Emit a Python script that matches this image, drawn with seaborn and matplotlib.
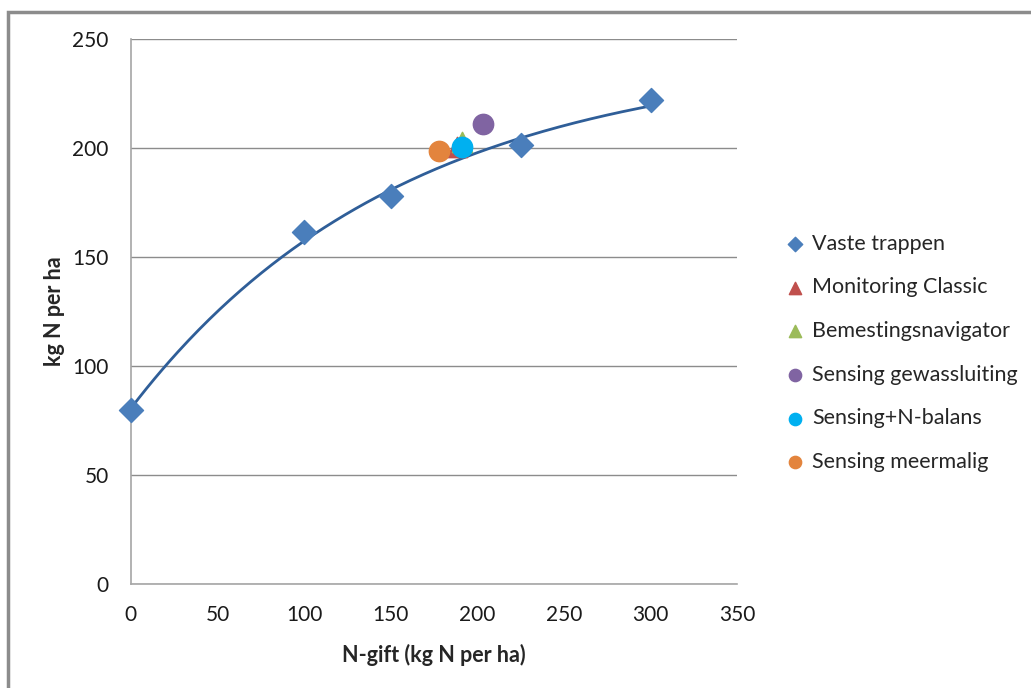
import numpy as np
import pandas as pd
import matplotlib
matplotlib.use("Agg")
import matplotlib.pyplot as plt
import seaborn as sns
from matplotlib.patches import Rectangle

# data
vaste_x = [0, 100, 150, 225, 300]
vaste_y = [80, 161.5, 178, 201.5, 222]

series_names = ['Monitoring Classic', 'Bemestingsnavigator', 'Sensing gewassluiting',
                'Sensing+N-balans', 'Sensing meermalig']
series_x = [188, 191, 203, 191, 178]
series_y = [200.5, 203, 211, 200.5, 198.5]
series_colors = ['#C0504D', '#9BBB59', '#8064A2', '#00B0F0', '#E3843D']
series_markers = ['^', '^', 'o', 'o', 'o']

sns.set_style('white')
plt.rcParams['font.family'] = ['Lato', 'DejaVu Sans']

fig = plt.figure(figsize=(10.31, 6.88), dpi=100)
ax = fig.add_axes([0.127, 0.151, 0.588, 0.792])

# outer chart frame
fig.patches.append(Rectangle((8 / 1031, -0.05), 1.2, 1 - 12 / 688 + 0.05, transform=fig.transFigure,
                             fill=False, edgecolor='#8C8C8C', linewidth=2.5, clip_on=False))

# response curve y = a - b*exp(-c*x), least-squares fit to the 'Vaste trappen' points
xv = np.array(vaste_x, dtype=float)
yv = np.array(vaste_y, dtype=float)
best = None
for c in np.linspace(0.001, 0.02, 400):
    A = np.column_stack([np.ones_like(xv), -np.exp(-c * xv)])
    sol, res, _, _ = np.linalg.lstsq(A, yv, rcond=None)
    sse = np.sum((A @ sol - yv) ** 2)
    if best is None or sse < best[0]:
        best = (sse, c, sol)
_, c_fit, (a_fit, b_fit) = best
trend_x = np.linspace(0, 300, 200)
trend_df = pd.DataFrame({'x': trend_x, 'y': a_fit - b_fit * np.exp(-c_fit * trend_x)})
sns.lineplot(data=trend_df, x='x', y='y', ax=ax, color='#2F5E98', linewidth=2, zorder=3)

vaste_df = pd.DataFrame({'x': vaste_x, 'y': vaste_y})
sns.scatterplot(data=vaste_df, x='x', y='y', ax=ax, marker='D', s=150, color='#4A7EBB',
                edgecolor='#4A7EBB', label='Vaste trappen', zorder=4, clip_on=False)

for name, x, y, c, m in zip(series_names, series_x, series_y, series_colors, series_markers):
    sns.scatterplot(x=[x], y=[y], ax=ax, marker=m, s=210, color=c, edgecolor=c,
                    label=name, zorder=5)

ax.set_xlim(0, 350)
ax.set_ylim(0, 250)
ax.set_xticks(range(0, 351, 50))
ax.set_yticks(range(0, 251, 50))
ax.grid(axis='y', color='#8C8C8C', linewidth=1)
ax.grid(axis='x', visible=False)
ax.set_axisbelow(True)
for s in ['top', 'right']:
    ax.spines[s].set_visible(False)
for s in ['left', 'bottom']:
    ax.spines[s].set_color('#A6A6A6')
    ax.spines[s].set_linewidth(1.2)
ax.tick_params(axis='both', direction='out', length=6, width=1, color='#A6A6A6',
               labelsize=15, labelcolor='#1a1a1a')
ax.tick_params(axis='y', pad=10)
ax.tick_params(axis='x', pad=9)
ax.set_xlabel('N-gift (kg N per ha)', fontsize=15.5, fontweight='bold', labelpad=14)
ax.set_ylabel('kg N per ha', fontsize=15.5, fontweight='bold', labelpad=5)

ax.legend(loc='center left', bbox_to_anchor=(0.742, 0.487), bbox_transform=fig.transFigure,
          frameon=False, fontsize=15.5, labelspacing=1.1, handletextpad=-0.2, markerscale=0.6,
          borderaxespad=0)

fig.savefig('out.png', dpi=100)
